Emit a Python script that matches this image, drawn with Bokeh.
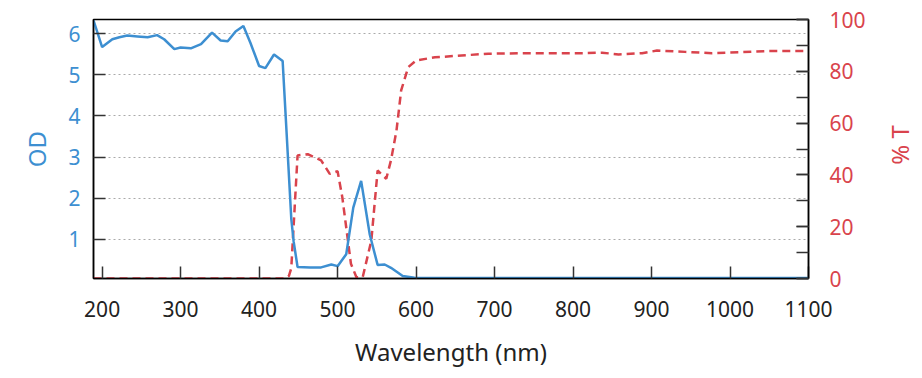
import math
from bokeh.plotting import figure
from bokeh.layouts import row
from bokeh.models import (Range1d, LinearAxis, FixedTicker, SingleIntervalTicker,
                          Label)
from bokeh.embed import file_html
from bokeh.resources import INLINE

# Optical density (left axis)
wl_od = [189, 200, 213, 222, 232, 245, 258, 270, 279, 292, 300, 313, 326, 340,
         351, 360, 370, 380, 389, 400, 408, 419, 430, 435, 441, 444, 449, 465,
         479, 492, 500, 511, 520, 530, 541, 551, 560, 568, 583, 598, 650, 700,
         800, 900, 1000, 1100]
od = [6.32, 5.67, 5.86, 5.91, 5.95, 5.93, 5.91, 5.96, 5.86, 5.62, 5.66, 5.64,
      5.74, 6.02, 5.83, 5.81, 6.05, 6.18, 5.77, 5.21, 5.16, 5.49, 5.33, 3.6,
      1.5, 0.95, 0.33, 0.32, 0.32, 0.39, 0.35, 0.64, 1.77, 2.42, 1.12, 0.38,
      0.39, 0.31, 0.11, 0.07, 0.06, 0.06, 0.06, 0.06, 0.06, 0.06]

# Transmission (right axis)
wl_t = [189, 432, 438, 441, 449, 462, 479, 490, 500, 506, 517, 524, 532, 543,
        551, 562, 568, 575, 581, 590, 600, 624, 658, 692, 751, 815, 837, 858,
        888, 907, 943, 977, 1015, 1049, 1100]
t = [0, 0, 1, 4, 47.5, 48, 45.6, 40.4, 41.4, 31.4, 5.7, 0.5, 0.5, 14.7, 41.7,
     38.5, 45.6, 57, 72.6, 81.6, 84.2, 85.4, 86.1, 86.8, 87, 87, 87.2, 86.5,
     87, 88, 87.5, 87, 87.4, 87.8, 87.8]

od_ticks = [1, 2, 3, 4, 5, 6]
x_ticks = [200, 300, 400, 500, 600, 700, 800, 900, 1000, 1100]

BLUE = "#3d8fd1"
RED = "#d9434c"
FONT = "Noto Sans"

p = figure(width=878, height=376, x_range=(189, 1100), y_range=(0.05, 6.34),
           output_backend="svg", toolbar_location=None,
           min_border_left=93, min_border_right=70, min_border_top=19,
           min_border_bottom=98)
p.extra_y_ranges = {"t": Range1d(0, 100)}

p.line(wl_t, t, y_range_name="t", line_color=RED, line_width=2.5,
       line_dash="8 5")
p.line(wl_od, od, line_color=BLUE, line_width=2.5)

raxis = LinearAxis(y_range_name="t",
                   ticker=SingleIntervalTicker(interval=20, num_minor_ticks=2))
p.add_layout(raxis, "right")

p.xaxis.ticker = FixedTicker(ticks=x_ticks)
p.yaxis[0].ticker = FixedTicker(ticks=od_ticks)

for ax in p.axis:
    ax.major_tick_in = 12
    ax.major_tick_out = 0
    ax.minor_tick_in = 0
    ax.minor_tick_out = 0
    ax.axis_line_color = "black"
    ax.axis_line_width = 1.5
    ax.major_tick_line_color = "#333333"
    ax.major_tick_line_width = 1.5
    ax.major_label_text_font = FONT
    ax.major_label_text_font_size = "21px"
    ax.axis_label_text_font = FONT
    ax.axis_label_text_font_size = "24px"
    ax.axis_label_text_font_style = "normal"

raxis.minor_tick_in = 12
raxis.minor_tick_line_color = "#333333"
raxis.minor_tick_line_width = 1.5

p.xaxis.axis_label = "Wavelength (nm)"
p.xaxis.major_label_text_color = "#222222"
p.xaxis.axis_label_text_color = "#222222"
p.xaxis.major_label_standoff = 22
p.xaxis.axis_label_standoff = 15

p.yaxis[0].axis_label = "OD"
p.yaxis[0].major_label_text_color = BLUE
p.yaxis[0].axis_label_text_color = BLUE
p.yaxis[0].major_label_standoff = 13
p.yaxis[0].axis_label_standoff = 12

raxis.major_label_text_color = RED
raxis.major_label_standoff = 21

p.xgrid.visible = False
p.ygrid.ticker = FixedTicker(ticks=od_ticks)
p.ygrid.grid_line_color = "#aaaaaa"
p.ygrid.grid_line_dash = "2 3"
p.ygrid.grid_line_width = 1

p.outline_line_color = "black"
p.outline_line_width = 1.5
p.background_fill_color = "white"
p.border_fill_color = "white"

# narrow strip holding the right-axis title
q = figure(width=44, height=376, x_range=(0, 44), y_range=(0, 376),
           output_backend="svg", toolbar_location=None, min_border=0)
q.axis.visible = False
q.grid.visible = False
q.outline_line_color = None
q.background_fill_color = "white"
q.border_fill_color = "white"
q.add_layout(Label(x=21, y=194, text="% T", angle=math.pi / 2,
                   text_align="center", text_baseline="middle",
                   text_font=FONT, text_font_size="24px", text_color=RED))

layout = row(p, q, spacing=0)

open("out.html", "w").write(file_html(layout, INLINE))
